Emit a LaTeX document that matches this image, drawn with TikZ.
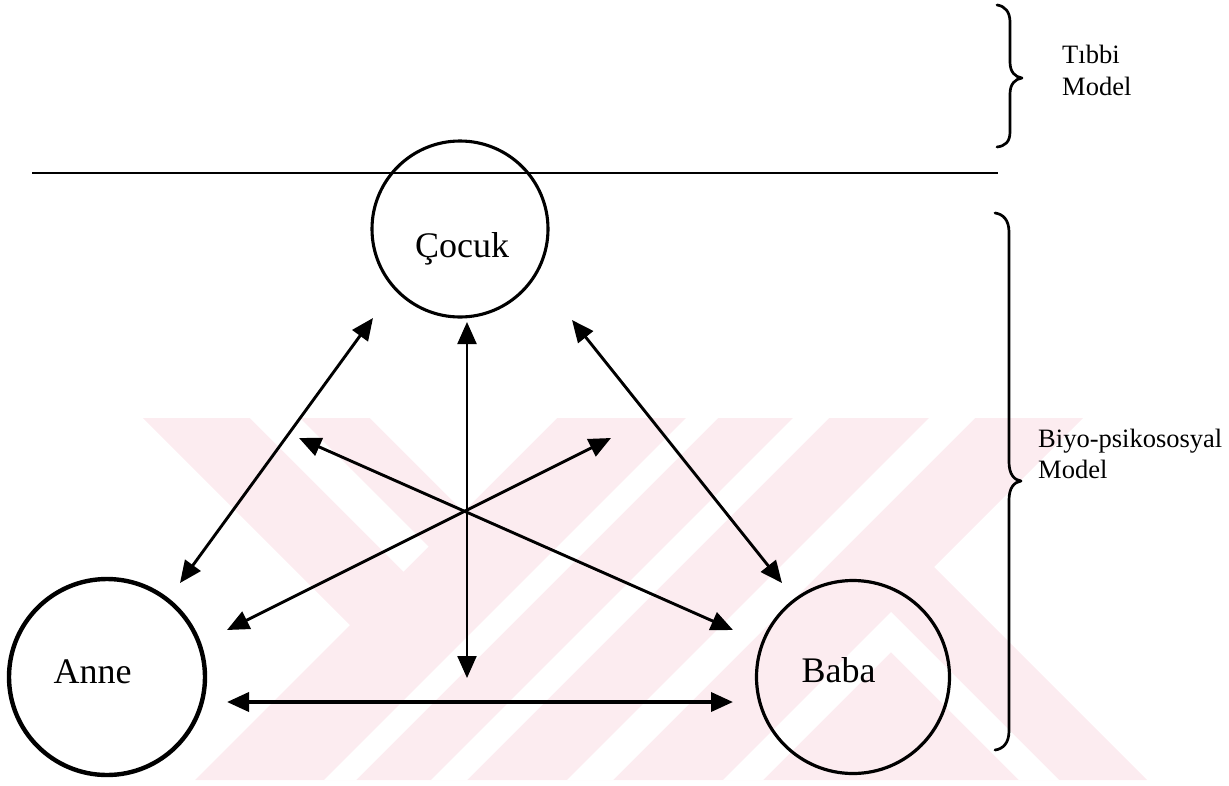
\documentclass[tikz,border=0pt]{standalone}
\usepackage{fontspec}
\setmainfont{Liberation Serif}
\usetikzlibrary{arrows.meta}
\definecolor{wmpink}{RGB}{252,236,240}
\begin{document}
\begin{tikzpicture}[x=1pt,y=-1pt,
  circ/.style={circle, draw=black, inner sep=0pt},
  biglbl/.style={inner sep=0pt, font=\fontsize{36}{40}\selectfont, anchor=base},
  sidelbl/.style={inner sep=0pt, font=\fontsize{26.5}{30}\selectfont, anchor=base west},
  tipp/.tip={Triangle[length=22pt,width=19pt]},
  conn/.style={line width=2.9pt, tipp-tipp},
  bracepath/.style={line width=2.7pt, line cap=round, line join=round}]
\useasboundingbox (0,0) rectangle (1229,785);
% watermark (faint background pattern)
\fill[wmpink] (143,418) -- (1083,418) -- (934,567) -- (1147,780) -- (195,780) -- (350,625) -- cycle;
\fill[white] (250,418) -- (300,418) -- (428.5,546.5) -- (403.5,571.5) -- cycle;
\fill[white] (370,418) -- (557,418) -- (463.5,511.5) -- cycle;
\fill[white] (686,418) -- (718,418) -- (356,780) -- (324,780) -- cycle;
\fill[white] (793,418) -- (829,418) -- (467,780) -- (431,780) -- cycle;
\fill[white] (929,418) -- (975,418) -- (613,780) -- (567,780) -- cycle;
\fill[white] (891,612) -- (723,780) -- (763,780) -- (891,652) -- (1019,780) -- (1059,780) -- cycle;
% separator line
\coordinate (hl) at (32,173);
\coordinate (hr) at (998,173);
\draw[line width=2.8pt] (hl) -- (hr);
% circles
\node[circ, minimum size=176pt, line width=3.1pt] (cocuk) at (460,229) {};
\node[circ, minimum size=196pt, line width=4.4pt] (anne) at (107,677) {};
\node[circ, minimum size=193pt, line width=3.2pt] (baba) at (853,677) {};
\node[biglbl] (tcocuk) at (462,257) {Çocuk};
\node[biglbl] (tanne) at (92.5,683) {Anne};
\node[biglbl] (tbaba) at (838.5,682) {Baba};
% arrow end points
\coordinate (ca1) at (373,318);
\coordinate (ca2) at (180,583);
\coordinate (cb1) at (572,320);
\coordinate (cb2) at (782,583);
\coordinate (v1) at (467,322);
\coordinate (v2) at (467,678);
\coordinate (xa1) at (299,438);
\coordinate (xa2) at (733,630);
\coordinate (xb1) at (611,438);
\coordinate (xb2) at (227,630);
\coordinate (h1) at (227,702);
\coordinate (h2) at (733,702);
\draw[conn] (ca1) -- (ca2);
\draw[conn] (cb1) -- (cb2);
\draw[conn, line width=2.3pt] (v1) -- (v2);
\draw[conn] (xa1) -- (xa2);
\draw[conn] (xb1) -- (xb2);
\draw[conn, line width=3.7pt] (h1) -- (h2);
% braces
\draw[bracepath] (997,5) .. controls (1005,6) and (1010,12) .. (1010,22) -- (1010,62)
  .. controls (1010,72) and (1015,77) .. (1022,78)
  .. controls (1015,79) and (1010,84) .. (1010,94) -- (1010,132)
  .. controls (1010,142) and (1005,146) .. (997,147);
\draw[bracepath] (995,213) .. controls (1003,214) and (1009,220) .. (1009,232) -- (1009,462)
  .. controls (1009,474) and (1014,480) .. (1021,481)
  .. controls (1014,482) and (1009,488) .. (1009,500) -- (1009,731)
  .. controls (1009,743) and (1003,749) .. (995,750);
% side labels
\node[sidelbl] (tibbi) at (1062,63) {Tıbbi};
\node[sidelbl] (tmodel) at (1062,95) {Model};
\node[sidelbl] (biyo) at (1038,447) {Biyo-psikososyal};
\node[sidelbl] (bmodel) at (1038,478) {Model};
\end{tikzpicture}
\end{document}
